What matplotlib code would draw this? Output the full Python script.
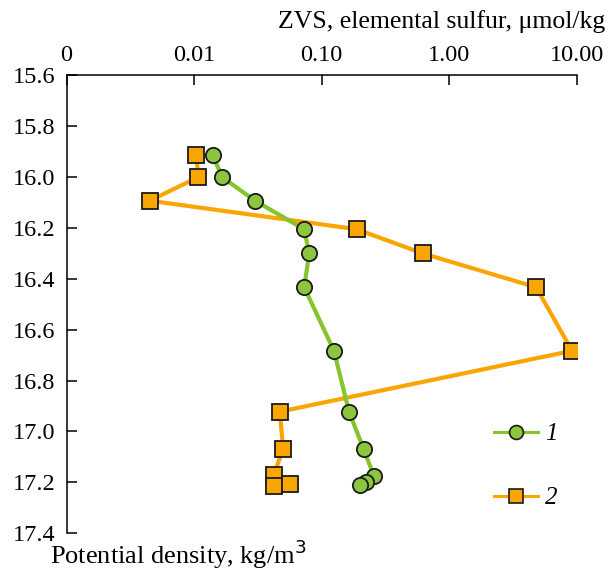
import matplotlib
matplotlib.use("Agg")
import matplotlib.pyplot as plt
from matplotlib.lines import Line2D
from matplotlib.ticker import FixedLocator, FixedFormatter, NullLocator

# ZVS profile, series 1 (circles) and series 2 (squares)
dens_1 = [15.913, 16.0, 16.093, 16.205, 16.30, 16.433, 16.683, 16.922, 17.07, 17.175, 17.199, 17.212]
zvs_1 = [0.014, 0.0166, 0.030, 0.073, 0.080, 0.073, 0.125, 0.164, 0.214, 0.257, 0.222, 0.200]

dens_2 = [15.913, 16.0, 16.093, 16.205, 16.30, 16.433, 16.683, 16.922, 17.07, 17.171, 17.214, 17.205]
zvs_2 = [0.0104, 0.0108, 0.0045, 0.188, 0.62, 4.8, 9.2, 0.047, 0.050, 0.042, 0.042, 0.057]

x_ticks = [0.001, 0.01, 0.1, 1.0, 10.0]
x_labels = ["0", "0.01", "0.10", "1.00", "10.00"]
y_ticks = [15.6, 15.8, 16.0, 16.2, 16.4, 16.6, 16.8, 17.0, 17.2, 17.4]

green = "#84c52b"
orange = "#f9a602"

plt.rcParams["font.family"] = ["Liberation Serif", "DejaVu Serif"]
plt.rcParams["font.size"] = 17.5

fig = plt.figure(figsize=(6.08, 5.72), dpi=100)
ax = fig.add_axes([0.1094, 0.0677, 0.8391, 0.8007])

ax.plot(zvs_1, dens_1, color=green, lw=3, marker="o", ms=11,
        mfc="#8cc63f", mec="#1a1a1a", mew=1.3, zorder=3)
ax.plot(zvs_2, dens_2, color=orange, lw=3, marker="s", ms=11,
        mfc=orange, mec="#1a1a1a", mew=1.3, zorder=2)

ax.set_xscale("log")
ax.set_xlim(0.001, 10)
ax.set_ylim(17.4, 15.6)

ax.xaxis.set_major_locator(FixedLocator(x_ticks))
ax.xaxis.set_major_formatter(FixedFormatter(x_labels))
ax.xaxis.set_minor_locator(NullLocator())
ax.xaxis.tick_top()
ax.set_yticks(y_ticks)
ax.set_yticklabels([f"{v:.1f}" for v in y_ticks])

ax.spines["right"].set_visible(False)
ax.spines["bottom"].set_visible(False)
ax.spines["top"].set_linewidth(1.1)
ax.spines["left"].set_linewidth(1.1)
ax.tick_params(axis="x", which="major", direction="in", length=7.2, width=1.1, pad=7)
ax.tick_params(axis="y", which="major", direction="in", length=7.2, width=1.1, pad=8)

fig.text(605 / 608, 1 - 28 / 572, "ZVS, elemental sulfur, \u03bcmol/kg", ha="right", va="baseline",
         fontsize=18.5)
fig.text(50 / 608, 1 - 564 / 572, "Potential density, kg/m$^3$", ha="left", va="baseline",
         fontsize=19)

handles = [
    Line2D([], [], color=green, lw=2.2, marker="o", ms=10, mfc="#8cc63f", mec="#1a1a1a", mew=1.2),
    Line2D([], [], color=orange, lw=2.2, marker="s", ms=10, mfc=orange, mec="#1a1a1a", mew=1.2),
]
leg = ax.legend(handles, ["1", "2"], loc="upper left", bbox_to_anchor=(494 / 608, 1 - 423 / 572),
                bbox_transform=fig.transFigure, frameon=False, handlelength=1.75,
                handletextpad=0.3, labelspacing=1.65, borderaxespad=0, borderpad=0,
                prop={"style": "italic", "size": 18})

fig.savefig("out.png", dpi=100)
